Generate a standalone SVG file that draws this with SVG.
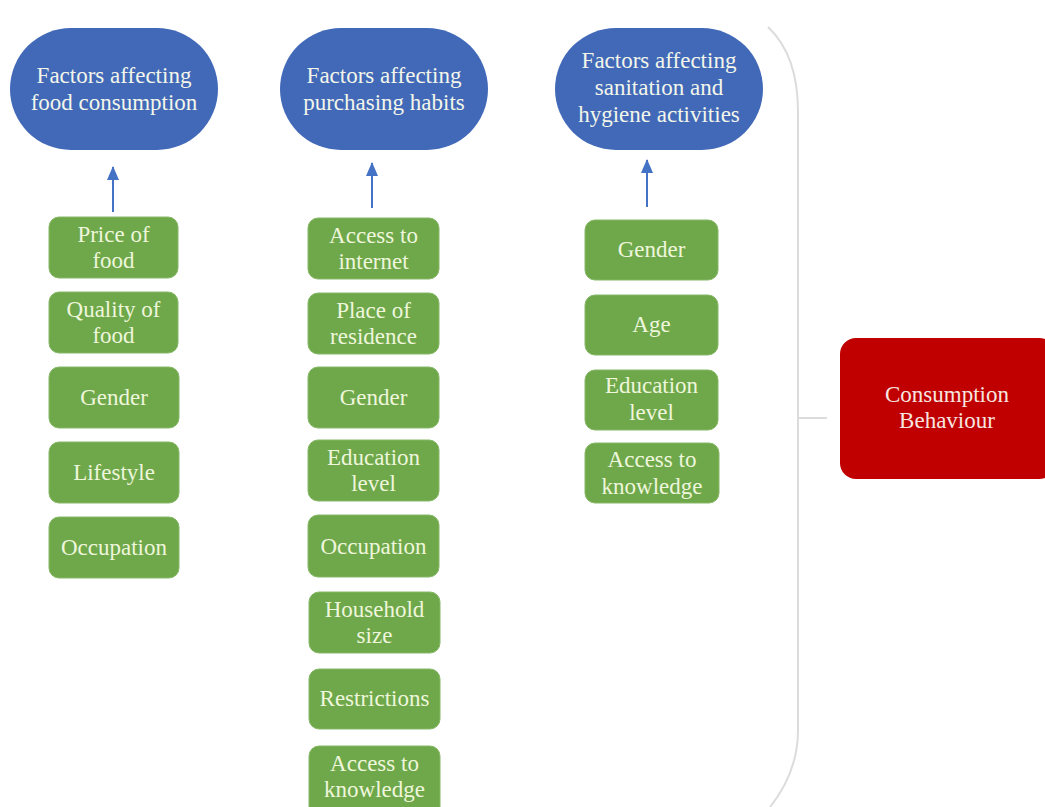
<svg xmlns="http://www.w3.org/2000/svg" width="1045" height="807" viewBox="0 0 1045 807">
<style>
.oval{fill:#4169b8;}
.box{fill:#6ea84a;stroke:#86b866;stroke-width:1;}
.red{fill:#c00000;}
text{font-family:'Liberation Serif','Tinos','DejaVu Serif','Noto Serif',serif;font-size:23px;text-anchor:middle;}
.tw{fill:#f3f6ea;}
.tg{fill:#eef6dc;}
.tr{fill:#f6e6e0;}
.arr{stroke:#4472c4;stroke-width:2;fill:none;}
.brace{stroke:#dcdcdc;stroke-width:2;fill:none;}
</style>
<defs>
<marker id="ah" viewBox="0 0 14 12" refX="13" refY="6" markerWidth="14" markerHeight="12" markerUnits="userSpaceOnUse" orient="auto">
<path d="M0,0 L14,6 L0,12 z" fill="#4472c4"/>
</marker>
</defs>
<rect width="1045" height="807" fill="#ffffff"/>

<g id="connectors">
<line class="arr" x1="113" y1="212" x2="113" y2="167" marker-end="url(#ah)"/>
<line class="arr" x1="372" y1="208" x2="372" y2="163" marker-end="url(#ah)"/>
<line class="arr" x1="647" y1="207" x2="647" y2="160" marker-end="url(#ah)"/>
<path class="brace" d="M768,27 Q798,55 798,112 L798,730 Q798,772 770,807"/>
<line class="brace" x1="798" y1="418" x2="827" y2="418"/>
</g>

<g id="oval-food">
<rect class="oval" x="10" y="28" width="208" height="122" rx="61"/>
<text class="tw" x="114" y="83">Factors affecting</text>
<text class="tw" x="114" y="110">food consumption</text>
</g>
<g id="oval-purchasing">
<rect class="oval" x="280" y="28" width="208" height="122" rx="61"/>
<text class="tw" x="384" y="83">Factors affecting</text>
<text class="tw" x="384" y="110">purchasing habits</text>
</g>
<g id="oval-sanitation">
<rect class="oval" x="555" y="28" width="208" height="122" rx="61"/>
<text class="tw" x="659" y="68">Factors affecting</text>
<text class="tw" x="659" y="95">sanitation and</text>
<text class="tw" x="659" y="122">hygiene activities</text>
</g>

<g id="c1-price">
<rect class="box" x="49" y="217" width="129" height="61" rx="10"/>
<text class="tg" x="113.5" y="242">Price of</text>
<text class="tg" x="113.5" y="268">food</text>
</g>
<g id="c1-quality">
<rect class="box" x="49" y="292" width="129" height="61" rx="10"/>
<text class="tg" x="113.5" y="317">Quality of</text>
<text class="tg" x="113.5" y="343">food</text>
</g>
<g id="c1-gender">
<rect class="box" x="49" y="367" width="130" height="61" rx="10"/>
<text class="tg" x="114" y="405">Gender</text>
</g>
<g id="c1-lifestyle">
<rect class="box" x="49" y="442" width="130" height="61" rx="10"/>
<text class="tg" x="114" y="480">Lifestyle</text>
</g>
<g id="c1-occupation">
<rect class="box" x="49" y="517" width="130" height="61" rx="10"/>
<text class="tg" x="114" y="555">Occupation</text>
</g>

<g id="c2-internet">
<rect class="box" x="308" y="218" width="131" height="61" rx="10"/>
<text class="tg" x="373.5" y="243">Access to</text>
<text class="tg" x="373.5" y="269">internet</text>
</g>
<g id="c2-residence">
<rect class="box" x="308" y="293" width="131" height="61" rx="10"/>
<text class="tg" x="373.5" y="318">Place of</text>
<text class="tg" x="373.5" y="344">residence</text>
</g>
<g id="c2-gender">
<rect class="box" x="308" y="367" width="131" height="61" rx="10"/>
<text class="tg" x="373.5" y="405">Gender</text>
</g>
<g id="c2-education">
<rect class="box" x="308" y="440" width="131" height="61" rx="10"/>
<text class="tg" x="373.5" y="465">Education</text>
<text class="tg" x="373.5" y="491">level</text>
</g>
<g id="c2-occupation">
<rect class="box" x="308" y="515" width="131" height="62" rx="10"/>
<text class="tg" x="373.5" y="554">Occupation</text>
</g>
<g id="c2-household">
<rect class="box" x="309" y="592" width="131" height="61" rx="10"/>
<text class="tg" x="374.5" y="617">Household</text>
<text class="tg" x="374.5" y="643">size</text>
</g>
<g id="c2-restrictions">
<rect class="box" x="309" y="669" width="131" height="60" rx="10"/>
<text class="tg" x="374.5" y="706">Restrictions</text>
</g>
<g id="c2-knowledge">
<rect class="box" x="309" y="746" width="131" height="72" rx="10"/>
<text class="tg" x="374.5" y="771">Access to</text>
<text class="tg" x="374.5" y="797">knowledge</text>
</g>

<g id="c3-gender">
<rect class="box" x="585" y="220" width="133" height="60" rx="10"/>
<text class="tg" x="651.5" y="257">Gender</text>
</g>
<g id="c3-age">
<rect class="box" x="585" y="295" width="133" height="60" rx="10"/>
<text class="tg" x="651.5" y="332">Age</text>
</g>
<g id="c3-education">
<rect class="box" x="585" y="370" width="133" height="60" rx="10"/>
<text class="tg" x="651.5" y="393">Education</text>
<text class="tg" x="651.5" y="420">level</text>
</g>
<g id="c3-knowledge">
<rect class="box" x="585" y="443" width="134" height="60" rx="10"/>
<text class="tg" x="652" y="467">Access to</text>
<text class="tg" x="652" y="494">knowledge</text>
</g>

<g id="consumption-behaviour">
<rect class="red" x="840" y="338" width="215" height="141" rx="16"/>
<text class="tr" x="947" y="402">Consumption</text>
<text class="tr" x="947" y="428">Behaviour</text>
</g>
</svg>
